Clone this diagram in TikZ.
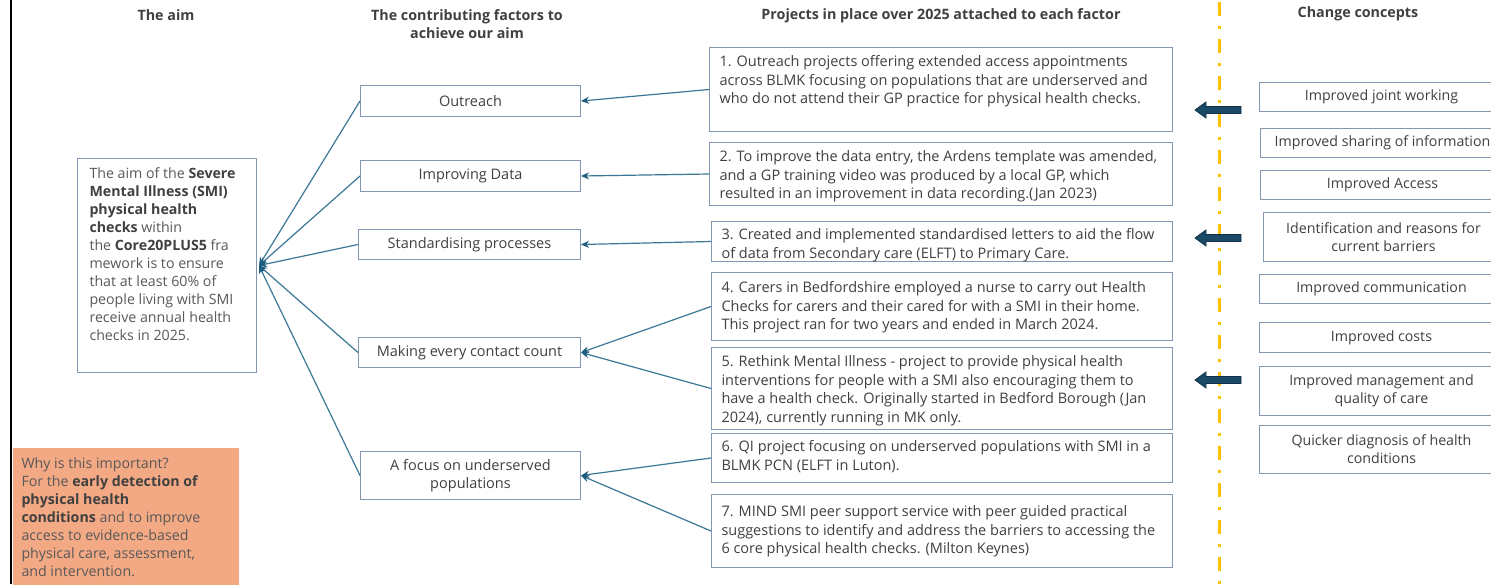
\documentclass[tikz,border=0pt]{standalone}
\usepackage{fontspec}
\setmainfont{Open Sans}
\usetikzlibrary{arrows.meta}
\definecolor{txt}{HTML}{404040}
\definecolor{txtl}{HTML}{595959}
\definecolor{bd}{HTML}{8497B0}
\definecolor{cn}{HTML}{3B7797}
\definecolor{ah}{HTML}{1D5C7E}
\definecolor{blk}{HTML}{1B4A66}
\definecolor{blkd}{HTML}{0E3048}
\definecolor{gold}{HTML}{FFC000}
\definecolor{salmon}{HTML}{F2A984}
\newcommand{\tbx}[4]{\parbox[c][#2][t]{#1}{\vspace*{#3}\raggedright #4}}
\begin{document}
\begin{tikzpicture}[x=1pt,y=-1pt,
  every node/.style={text=txt},
  body/.style={font=\fontsize{14.2}{18}\selectfont},
  pfont/.style={font=\fontsize{14.5}{18.5}\selectfont},
  head/.style={font=\fontsize{14.3}{18}\selectfont\bfseries, align=center, text=txt},
  box/.style={draw=bd, line width=1pt, fill=white, inner sep=0pt, anchor=north west, body},
  pbox/.style={box, inner xsep=10pt, pfont},
  fbox/.style={box, align=center, font=\fontsize{14.5}{18}\selectfont},
  cbox/.style={box, align=center, font=\fontsize{14.2}{18}\selectfont},
  conn/.style={draw=cn, line width=1.2pt, -{Stealth[length=8pt,width=7pt,color=ah]}}
]
\useasboundingbox (0,0) rectangle (1491,584);
\clip (0,0) rectangle (1491,584);
\fill[white] (0,0) rectangle (1491,584);

% left rule
\draw[black, line width=2.2pt] (11,0) -- (11,584);

% headers
\node[head] (h1) at (166,15) {The aim};
\node[head] (h2) at (467,24) {The contributing factors to\\achieve our aim};
\node[head] (h3) at (941,16) {Projects in place over 2025 attached to each factor};
\node[head] (h4) at (1358,14) {Change concepts};

% yellow divider
\coordinate (yt) at (1219,2);
\coordinate (yb) at (1219,584);
\draw[gold, line width=3pt, dash pattern=on 14pt off 10pt on 3pt off 10pt] (yt) -- (yb);

% aim box
\node[box, inner xsep=12pt, minimum width=179pt] (aim) at (77,158)
  {\tbx{155pt}{214pt}{9pt}{\color{txtl}The aim of the \textcolor{txt}{\textbf{Severe}}\\
   \textcolor{txt}{\textbf{Mental Illness (SMI)}}\\
   \textcolor{txt}{\textbf{physical health}}\\
   \textcolor{txt}{\textbf{checks}} within\\
   the \textcolor{txt}{\textbf{Core20PLUS5}} fra\\
   mework is to ensure\\
   that at least 60\% of\\
   people living with SMI\\
   receive annual health\\
   checks in 2025.}};

% why box
\node[box, draw=none, fill=salmon, inner xsep=9pt, minimum width=226pt] (why) at (12,447)
  {\tbx{208pt}{140pt}{10pt}{\color{txtl}Why is this important?\\
   For the \textcolor{txt}{\textbf{early detection of}}\\
   \textcolor{txt}{\textbf{physical health}}\\
   \textcolor{txt}{\textbf{conditions}} and to improve\\
   access to evidence-based\\
   physical care, assessment,\\
   and intervention.}};

% factor boxes
\node[fbox, minimum width=220pt, minimum height=31pt] (fo) at (360,85) {Outreach};
\node[fbox, minimum width=220pt, minimum height=31pt] (fd) at (360,160) {Improving Data};
\node[fbox, minimum width=222pt, minimum height=30pt] (fs) at (358,229) {Standardising processes};
\node[fbox, minimum width=222pt, minimum height=30pt] (fm) at (358,337) {Making every contact count};
\node[fbox, minimum width=220pt, minimum height=48pt] (fu) at (360,451) {A focus on underserved\\populations};

% project boxes
\node[pbox] (p1) at (709,47) {\tbx{443pt}{84pt}{8pt}{1. Outreach projects offering extended access appointments\\
  across BLMK focusing on populations that are underserved and\\
  who do not attend their GP practice for physical health checks.}};
\node[pbox] (p2) at (709,142) {\tbx{443pt}{63pt}{8pt}{2. To improve the data entry, the Ardens template was amended,\\
  and a GP training video was produced by a local GP, which\\
  resulted in an improvement in data recording.(Jan 2023)}};
\node[pbox] (p3) at (711,221) {\tbx{441pt}{40pt}{7pt}{3. Created and implemented standardised letters to aid the flow\\
  of data from Secondary care (ELFT) to Primary Care.}};
\node[pbox] (p4) at (711,272) {\tbx{441pt}{68pt}{9pt}{4. Carers in Bedfordshire employed a nurse to carry out Health\\
  Checks for carers and their cared for with a SMI in their home.\\
  This project ran for two years and ended in March 2024.}};
\node[pbox] (p5) at (711,347) {\tbx{441pt}{82pt}{8pt}{5. Rethink Mental Illness - project to provide physical health\\
  interventions for people with a SMI also encouraging them to\\
  have a health check. Originally started in Bedford Borough (Jan\\
  2024), currently running in MK only.}};
\node[pbox] (p6) at (711,433) {\tbx{441pt}{49pt}{7pt}{6. QI project focusing on underserved populations with SMI in a\\
  BLMK PCN (ELFT in Luton).}};
\node[pbox] (p7) at (711,494) {\tbx{441pt}{73pt}{11pt}{7. MIND SMI peer support service with peer guided practical\\
  suggestions to identify and address the barriers to accessing the\\
  6 core physical health checks. (Milton Keynes)}};

% change concept boxes
\node[cbox, minimum width=244pt, minimum height=29pt] (c1) at (1259,82) {Improved joint working};
\node[cbox, minimum width=244pt, minimum height=29pt] (c2) at (1260,128) {Improved sharing of information};
\node[cbox, minimum width=244pt, minimum height=29pt] (c3) at (1260,170) {Improved Access};
\node[cbox, minimum width=240pt, minimum height=49pt] (c4) at (1263,212) {Identification and reasons for\\current barriers};
\node[cbox, minimum width=244pt, minimum height=29pt] (c5) at (1259,274) {Improved communication};
\node[cbox, minimum width=244pt, minimum height=30pt] (c6) at (1259,322) {Improved costs};
\node[cbox, minimum width=244pt, minimum height=49pt] (c7) at (1259,366) {Improved management and\\quality of care};
\node[cbox, minimum width=244pt, minimum height=48pt] (c8) at (1259,425) {Quicker diagnosis of health\\conditions};

% block arrows
\foreach \yy in {110,238,380}{
  \filldraw[fill=blk, draw=blkd, line width=0.8pt]
    (1195,\yy) -- (1206,\yy-8) -- (1206,\yy-3.5) -- (1241,\yy-3.5) -- (1241,\yy+3.5)
    -- (1206,\yy+3.5) -- (1206,\yy+8) -- cycle;
}

% connectors factors -> aim
\foreach \f in {fo,fd,fs,fm,fu}{
  \draw[conn] (\f.west) -- ([xshift=2pt]aim.east);
}
% connectors projects -> factors
\draw[conn] (p1.west) -- (fo.east);
\draw[conn] (p2.west) -- (fd.east);
\draw[conn] (p3.west) -- (fs.east);
\draw[conn] (p4.west) -- (fm.east);
\draw[conn] (p5.west) -- (fm.east);
\draw[conn] (p6.west) -- (fu.east);
\draw[conn] (p7.west) -- (fu.east);
\end{tikzpicture}
\end{document}
